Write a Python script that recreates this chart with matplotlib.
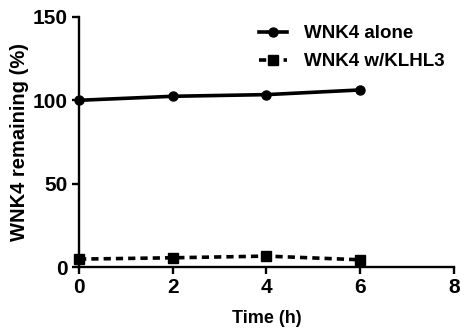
import matplotlib
matplotlib.use("Agg")
import matplotlib.pyplot as plt

plt.rcParams["font.family"] = ["Liberation Sans", "DejaVu Sans"]
plt.rcParams["font.weight"] = "bold"

time_h = [0, 2, 4, 6]
wnk4_alone = [100, 102.4, 103.4, 106.2]
wnk4_klhl3 = [4.8, 5.6, 6.6, 4.4]

fig = plt.figure(figsize=(4.65, 3.31), dpi=100)
axis = fig.add_axes([0.17, 0.193, 0.806, 0.756])

axis.plot(time_h, wnk4_alone, color="black", linewidth=2.6, marker="o", markersize=6.5,
          label="WNK4 alone", clip_on=False, zorder=3)
axis.plot(time_h, wnk4_klhl3, color="black", linewidth=2.6, linestyle=(0, (2.0, 1.4)),
          marker="s", markersize=6.5, label="WNK4 w/KLHL3", clip_on=False, zorder=3)

axis.set_xlim(0, 8)
axis.set_ylim(0, 150)
axis.set_xticks([0, 2, 4, 6, 8])
axis.set_yticks([0, 50, 100, 150])
for side in ["top", "right"]:
    axis.spines[side].set_visible(False)
for side in ["left", "bottom"]:
    axis.spines[side].set_linewidth(1.7)
axis.tick_params(width=1.7, length=5, labelsize=15, direction="out", pad=3)
for label in axis.get_xticklabels() + axis.get_yticklabels():
    label.set_fontweight("bold")
axis.set_xlabel("Time (h)", fontsize=13, fontweight="bold", labelpad=9)
axis.set_ylabel("WNK4 remaining (%)", fontsize=14.5, fontweight="bold", labelpad=3)

axis.legend(loc="upper right", bbox_to_anchor=(1.02, 1.035), frameon=False,
            handlelength=1.5, handletextpad=0.9, labelspacing=0.6,
            prop={"weight": "bold", "size": 13.5})

fig.savefig("out.png", dpi=100)
